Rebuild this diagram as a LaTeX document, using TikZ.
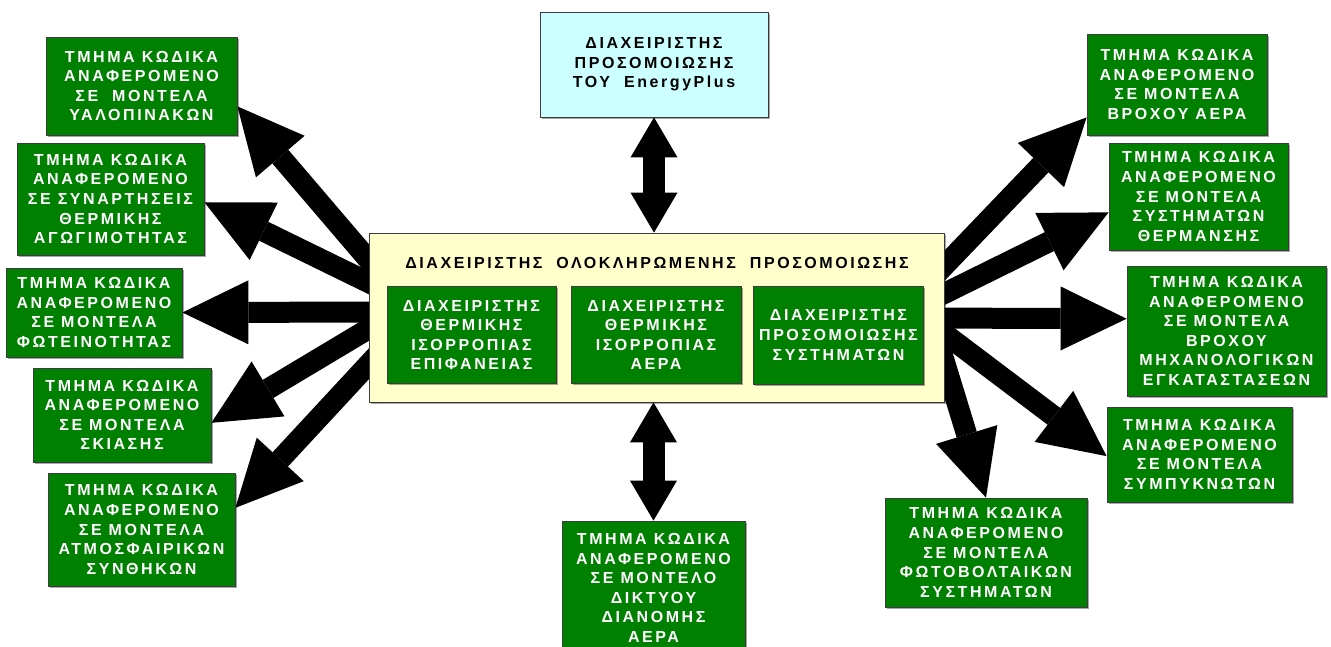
\documentclass[tikz,border=0pt]{standalone}
\usepackage{fontspec}
\usetikzlibrary{arrows.meta,backgrounds,shadows}
\newfontfamily\lbl{Liberation Sans Bold}[LetterSpace=16]

\definecolor{codegreen}{RGB}{0,128,0}
\definecolor{epcyan}{RGB}{204,255,255}
\definecolor{mgryellow}{RGB}{255,255,204}
\definecolor{edge}{RGB}{60,60,60}

\tikzset{
  lblfont/.style={font=\lbl\fontsize{16}{19.6}\selectfont},
  box/.style={draw=edge, line width=0.8pt, inner sep=0pt, align=center, lblfont,
    drop shadow={shadow xshift=1.5pt, shadow yshift=-1.5pt, fill=black, opacity=0.35}},
  codebox/.style={box, fill=codegreen, text=white},
  blk/.style={draw=black, line width=21pt,
    -{Triangle[length=66pt,width=64pt,line width=0pt]}},
  dbl/.style={draw=black, line width=22pt,
    {Triangle[length=40pt,width=47pt,line width=0pt]}-{Triangle[length=40pt,width=47pt,line width=0pt]}},
}

\begin{document}
\begin{tikzpicture}[x=1pt, y=-1pt]
\useasboundingbox (0,0) rectangle (1331,646);

% central manager with its three sub-managers
\node[box, fill=mgryellow, minimum width=575pt, minimum height=169pt] (main) at (656.5,317.5) {};
\node[lblfont] (title) at (657,263)
  {ΔΙΑΧΕΙΡΙΣΤΗΣ\ \ ΟΛΟΚΛΗΡΩΜΕΝΗΣ\ \ ΠΡΟΣΟΜΟΙΩΣΗΣ};
\node[codebox, minimum width=169pt, minimum height=97pt] (i1) at (471.5,335)
  {ΔΙΑΧΕΙΡΙΣΤΗΣ\\ΘΕΡΜΙΚΗΣ\\ΙΣΟΡΡΟΠΙΑΣ\\ΕΠΙΦΑΝΕΙΑΣ};
\node[codebox, minimum width=170pt, minimum height=97pt] (i2) at (656,335)
  {ΔΙΑΧΕΙΡΙΣΤΗΣ\\ΘΕΡΜΙΚΗΣ\\ΙΣΟΡΡΟΠΙΑΣ\\ΑΕΡΑ};
\node[codebox, minimum width=170pt, minimum height=98pt] (i3) at (838.5,335)
  {ΔΙΑΧΕΙΡΙΣΤΗΣ\\ΠΡΟΣΟΜΟΙΩΣΗΣ\\ΣΥΣΤΗΜΑΤΩΝ};

% EnergyPlus simulation manager
\node[box, fill=epcyan, minimum width=228pt, minimum height=105pt] (epm) at (654,64.5)
  {ΔΙΑΧΕΙΡΙΣΤΗΣ\\ΠΡΟΣΟΜΟΙΩΣΗΣ\\ΤΟΥ\ \ EnergyPlus};

% code modules, left side
\node[codebox, minimum width=191pt, minimum height=98pt] (L1) at (141.5,86)
  {ΤΜΗΜΑ ΚΩΔΙΚΑ\\ΑΝΑΦΕΡΟΜΕΝΟ\\ΣΕ\ \ ΜΟΝΤΕΛΑ\\ΥΑΛΟΠΙΝΑΚΩΝ};
\node[codebox, minimum width=187pt, minimum height=112pt] (L2) at (110.5,199)
  {ΤΜΗΜΑ ΚΩΔΙΚΑ\\ΑΝΑΦΕΡΟΜΕΝΟ\\ΣΕ ΣΥΝΑΡΤΗΣΕΙΣ\\ΘΕΡΜΙΚΗΣ\\ΑΓΩΓΙΜΟΤΗΤΑΣ};
\node[codebox, minimum width=176pt, minimum height=89pt] (L3) at (94,312.5)
  {ΤΜΗΜΑ ΚΩΔΙΚΑ\\ΑΝΑΦΕΡΟΜΕΝΟ\\ΣΕ ΜΟΝΤΕΛΑ\\ΦΩΤΕΙΝΟΤΗΤΑΣ};
\node[codebox, minimum width=178pt, minimum height=94pt] (L4) at (122,415)
  {ΤΜΗΜΑ ΚΩΔΙΚΑ\\ΑΝΑΦΕΡΟΜΕΝΟ\\ΣΕ ΜΟΝΤΕΛΑ\\ΣΚΙΑΣΗΣ};
\node[codebox, minimum width=187pt, minimum height=113pt] (L5) at (141.5,529.5)
  {ΤΜΗΜΑ ΚΩΔΙΚΑ\\ΑΝΑΦΕΡΟΜΕΝΟ\\ΣΕ ΜΟΝΤΕΛΑ\\ΑΤΜΟΣΦΑΙΡΙΚΩΝ\\ΣΥΝΘΗΚΩΝ};

% code modules, right side
\node[codebox, minimum width=180pt, minimum height=101pt] (R1) at (1177,84.5)
  {ΤΜΗΜΑ ΚΩΔΙΚΑ\\ΑΝΑΦΕΡΟΜΕΝΟ\\ΣΕ ΜΟΝΤΕΛΑ\\ΒΡΟΧΟΥ ΑΕΡΑ};
\node[codebox, minimum width=179pt, minimum height=107pt] (R2) at (1198.5,196.5)
  {ΤΜΗΜΑ ΚΩΔΙΚΑ\\ΑΝΑΦΕΡΟΜΕΝΟ\\ΣΕ ΜΟΝΤΕΛΑ\\ΣΥΣΤΗΜΑΤΩΝ\\ΘΕΡΜΑΝΣΗΣ};
\node[codebox, minimum width=199pt, minimum height=130pt] (R3) at (1226.5,331)
  {ΤΜΗΜΑ ΚΩΔΙΚΑ\\ΑΝΑΦΕΡΟΜΕΝΟ\\ΣΕ ΜΟΝΤΕΛΑ\\ΒΡΟΧΟΥ\\ΜΗΧΑΝΟΛΟΓΙΚΩΝ\\ΕΓΚΑΤΑΣΤΑΣΕΩΝ};
\node[codebox, minimum width=185pt, minimum height=95pt] (R4) at (1199.5,454.5)
  {ΤΜΗΜΑ ΚΩΔΙΚΑ\\ΑΝΑΦΕΡΟΜΕΝΟ\\ΣΕ ΜΟΝΤΕΛΑ\\ΣΥΜΠΥΚΝΩΤΩΝ};
\node[codebox, minimum width=202pt, minimum height=109pt] (R5) at (986,552.5)
  {ΤΜΗΜΑ ΚΩΔΙΚΑ\\ΑΝΑΦΕΡΟΜΕΝΟ\\ΣΕ ΜΟΝΤΕΛΑ\\ΦΩΤΟΒΟΛΤΑΙΚΩΝ\\ΣΥΣΤΗΜΑΤΩΝ};

% air distribution network module (runs off the lower edge)
\node[codebox, minimum width=183pt, minimum height=134pt] (net) at (653.5,588)
  {ΤΜΗΜΑ ΚΩΔΙΚΑ\\ΑΝΑΦΕΡΟΜΕΝΟ\\ΣΕ ΜΟΝΤΕΛΟ\\ΔΙΚΤΥΟΥ\\ΔΙΑΝΟΜΗΣ\\ΑΕΡΑ};

% arrow origins, hidden behind the central manager
\coordinate (sL1) at (390,285);
\coordinate (sL2) at (390,293);
\coordinate (sL3) at (390,312);
\coordinate (sL4) at (390,316);
\coordinate (sL5) at (390,341);
\coordinate (sR1) at (925,286);
\coordinate (sR2) at (925,303);
\coordinate (sR3) at (925,318);
\coordinate (sR4) at (925,319);
\coordinate (sR5) at (935,331);

\begin{scope}[on background layer]
  \draw[blk] (sL1) -- (L1.-12);
  \draw[blk] (sL2) -- (L2.-2);
  \draw[blk] (sL3) -- (L3.east);
  \draw[blk] (sL4) -- (L4.-5);
  \draw[blk] (sL5) -- (L5.13);
  \draw[blk] (sR1) -- (R1.200);
  \draw[blk] (sR2) -- (R2.190);
  \draw[blk] (sR3) -- (R3.173);
  \draw[blk] (sR4) -- (R4.181);
  \draw[blk] (sR5) -- (R5.north);
\end{scope}

\draw[dbl] (epm.south) -- (epm.south |- main.north);
\draw[dbl] (net.north |- main.south) -- (net.north);
\end{tikzpicture}
\end{document}
